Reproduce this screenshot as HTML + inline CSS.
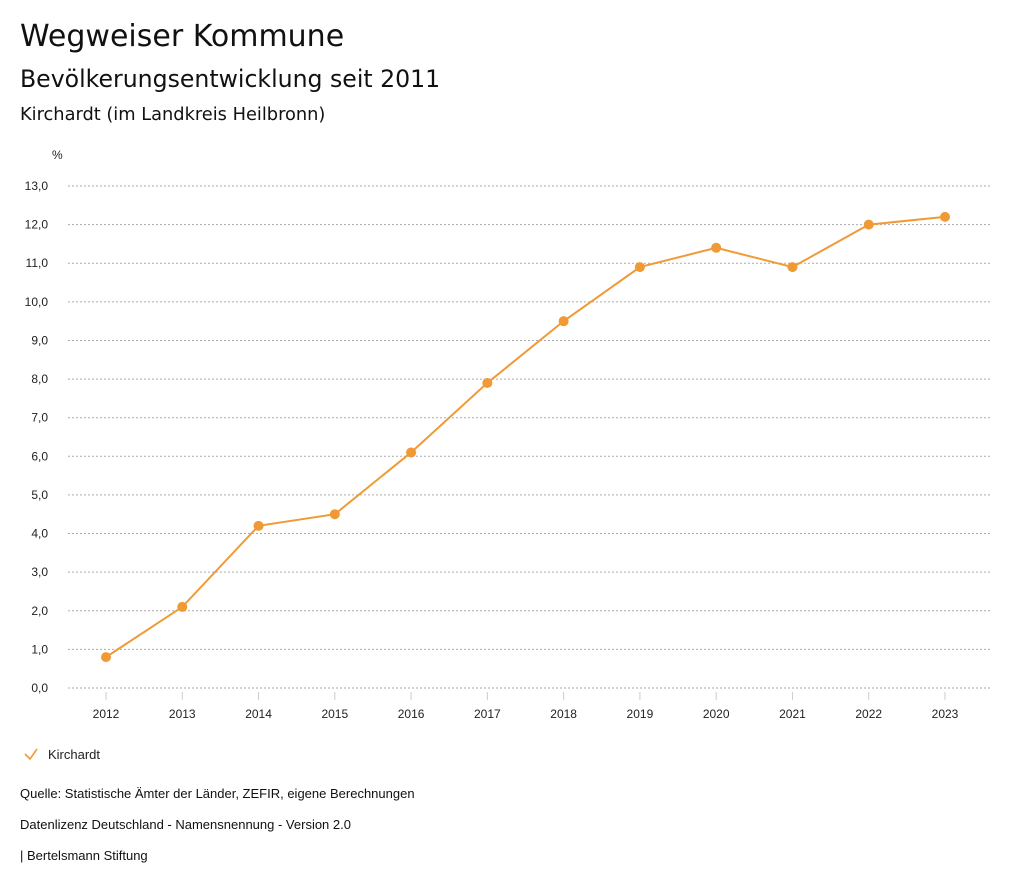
<!DOCTYPE html>
<html><head><meta charset="utf-8">
<style>
body{margin:0;background:#fff;font-family:"Liberation Sans",sans-serif;color:#111;}
#wrap{position:relative;width:1024px;height:888px;overflow:hidden;}
.t{position:absolute;white-space:nowrap;}
.h{font-family:"DejaVu Sans",sans-serif;}
</style></head>
<body>
<div id="wrap">
<div class="t h" style="left:20px;top:19px;font-size:30px;">Wegweiser Kommune</div>
<div class="t h" style="left:20px;top:65px;font-size:23.6px;">Bevölkerungsentwicklung seit 2011</div>
<div class="t h" style="left:20px;top:104px;font-size:17.8px;">Kirchardt (im Landkreis Heilbronn)</div>
<svg id="chart" width="1024" height="888" style="position:absolute;left:0;top:0;font-family:'Liberation Sans',sans-serif;"></svg>
<div class="t" style="left:20px;top:786px;font-size:13px;">Quelle: Statistische Ämter der Länder, ZEFIR, eigene Berechnungen</div>
<div class="t" style="left:20px;top:817px;font-size:13px;">Datenlizenz Deutschland - Namensnennung - Version 2.0</div>
<div class="t" style="left:20px;top:848px;font-size:13px;">| Bertelsmann Stiftung</div>
</div>
<script>
const years=[2012,2013,2014,2015,2016,2017,2018,2019,2020,2021,2022,2023];
const values=[0.8,2.1,4.2,4.5,6.1,7.9,9.5,10.9,11.4,10.9,12.0,12.2];
const yTicks=[0,1,2,3,4,5,6,7,8,9,10,11,12,13];
const NS="http://www.w3.org/2000/svg";
const svg=document.getElementById('chart');
const x0=106,x1=945,y0=688,y1=186,yMax=13;
const xs=i=>x0+(x1-x0)*i/(years.length-1);
const ys=v=>y0-(y0-y1)*v/yMax;
function mk(t,a){const e=document.createElementNS(NS,t);for(const k in a)e.setAttribute(k,a[k]);svg.appendChild(e);return e;}
let u=mk('text',{x:52,y:159,'font-size':12,fill:'#222'});u.textContent='%';


yTicks.forEach(v=>{
 const g=mk('line',{x1:68,x2:990,y1:ys(v),y2:ys(v),stroke:'#aaa','stroke-dasharray':'2,2','stroke-width':1});
 
 
 const t=mk('text',{x:48,y:ys(v)+4,'text-anchor':'end','font-size':12,fill:'#222'});
 t.textContent=v.toFixed(1).replace('.',',');
 
 
});
years.forEach((yr,i)=>{
 const l=mk('line',{x1:xs(i),x2:xs(i),y1:692,y2:700,stroke:'#ccc'});
 
 
 const t=mk('text',{x:xs(i),y:718,'text-anchor':'middle','font-size':12,fill:'#222'});
 t.textContent=yr;
 
 
});
const p=mk('polyline',{points:values.map((v,i)=>xs(i)+','+ys(v)).join(' '),fill:'none',stroke:'#f09a36','stroke-width':2});


values.forEach((v,i)=>{
 const c=mk('circle',{cx:xs(i),cy:ys(v),r:5,fill:'#f09a36'});
 
 
});
const chk=mk('polyline',{points:'25,754 30,759 37,749',fill:'none',stroke:'#f09a36','stroke-width':1.6});


const lt=mk('text',{x:48,y:759,'font-size':13,fill:'#222'});
lt.textContent='Kirchardt';


</script>
</body></html>
